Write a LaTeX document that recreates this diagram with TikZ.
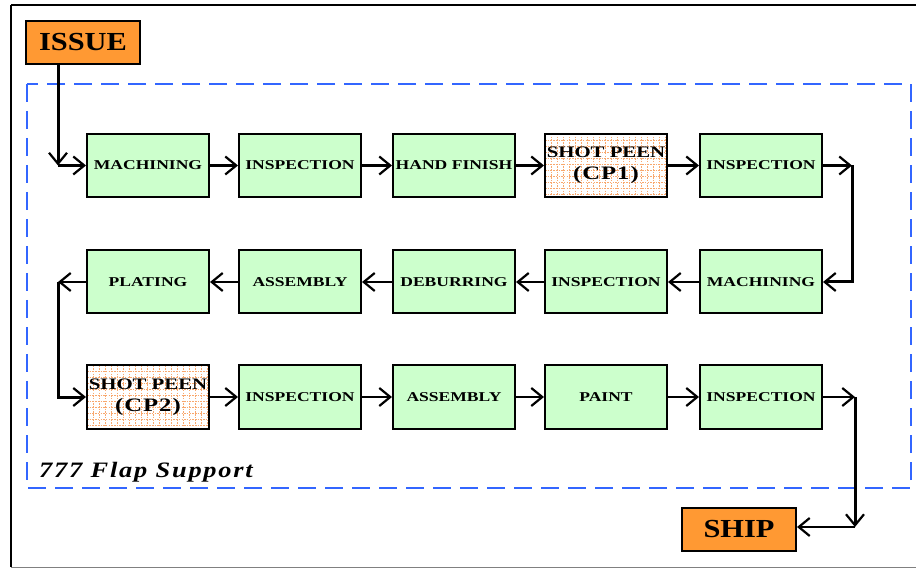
\documentclass[tikz,border=0pt]{standalone}
\usepackage{fontspec}
\setmainfont{Liberation Serif}
\newfontfamily\lblfont{Liberation Serif}[FakeStretch=1.3]
\newfontfamily\cpfont{Liberation Serif}[FakeStretch=1.3,LetterSpace=5]
\newfontfamily\tagfont{Liberation Serif}[FakeStretch=1.17]
\newfontfamily\flapfont{Liberation Serif}[FakeStretch=1.2,LetterSpace=8]
\usetikzlibrary{arrows.meta}
\definecolor{stepgreen}{HTML}{CCFFCC}
\definecolor{tagorange}{HTML}{FF9933}
\definecolor{frameblue}{HTML}{3366FF}
\definecolor{peenline}{HTML}{F8A86E}

\begin{document}
\begin{tikzpicture}[x=1pt,y=-1pt,
  op/.style={draw=black, line width=2pt, fill=stepgreen,
    minimum width=122pt, minimum height=63pt, inner sep=0pt, align=center,
    font=\lblfont\bfseries\fontsize{13.5}{15}\selectfont},
  peen/.style={op, fill=white,
    path picture={
      \foreach \k in {1,...,20}{
        \draw[peenline, line width=0.6pt, dash pattern=on 1.5pt off 1.2pt]
          ([xshift=\k*6pt]path picture bounding box.north west) --
          ([xshift=\k*6pt]path picture bounding box.south west);
        \draw[peenline, line width=0.6pt, dash pattern=on 1.5pt off 1.2pt]
          ([yshift=-\k*6pt]path picture bounding box.north west) --
          ([yshift=-\k*6pt]path picture bounding box.north east);
      }
    }},
  tag/.style={draw=black, line width=2pt, fill=tagorange,
    minimum width=114pt, minimum height=43pt, inner sep=0pt,
    font=\tagfont\bfseries\fontsize{26}{28}\selectfont},
  flow/.style={line width=2.2pt,
    -{Straight Barb[length=11pt,width=18pt,line width=2.2pt]}},
  riser/.style={flow, line width=3pt},
]
\useasboundingbox (0,0) rectangle (916,569);

% outer sheet border
\draw[line width=2pt] (11,5) -- (916,5);
\draw[line width=1.5pt] (11,5) -- (11,567);
\draw[gray, line width=1pt] (11,567) -- (916,567);

% dashed group outline and its caption
\draw[frameblue, line width=2.5pt, dash pattern=on 18pt off 9pt] (27,84) rectangle (911,488);
\node[anchor=base west, inner sep=0pt, font=\flapfont\bfseries\itshape\fontsize{22}{24}\selectfont]
  (caption) at (39,477) {777 Flap Support};

% start and end tags
\node[tag] (issue) at (83,42.5) {ISSUE};
\node[tag] (ship) at (739,529) {SHIP};

% row 1
\node[op] (m1) at (148,165.5) {MACHINING};
\node[op] (i1) at (300,165.5) {INSPECTION};
\node[op] (h1) at (454,165.5) {HAND FINISH};
\node[peen] (s1) at (606,165.5) {\fontsize{16}{18}\selectfont SHOT PEEN\\[7pt]\cpfont\fontsize{19}{22}\selectfont (CP1)};
\node[op] (i2) at (761,165.5) {INSPECTION};

% row 2
\node[op] (p1) at (148,282) {PLATING};
\node[op] (a1) at (300,282) {ASSEMBLY};
\node[op] (d1) at (454,282) {DEBURRING};
\node[op] (i3) at (606,282) {INSPECTION};
\node[op] (m2) at (761,282) {MACHINING};

% row 3
\node[peen] (s2) at (148,397) {\fontsize{16}{18}\selectfont SHOT PEEN\\[7pt]\cpfont\fontsize{19}{22}\selectfont (CP2)};
\node[op] (i4) at (300,397) {INSPECTION};
\node[op] (a2) at (454,397) {ASSEMBLY};
\node[op] (pt) at (606,397) {PAINT};
\node[op] (i5) at (761,397) {INSPECTION};

% corner points of the routed connectors
\coordinate (cin) at (58,165.5);
\coordinate (cr1) at (852,165.5);
\coordinate (cl1) at (58,282);
\coordinate (cr2) at (855,397);
\coordinate (cout) at (855,527);

% entry
\draw[riser] (issue.south -| cin) -- (cin);
\draw[flow] (cin) -- (m1.west);

% row 1
\draw[flow] (m1) -- (i1);
\draw[flow] (i1) -- (h1);
\draw[flow] (h1) -- (s1);
\draw[flow] (s1) -- (i2);
\draw[flow] (i2) -- (cr1);
\draw[riser] (cr1) |- (m2.east);

% row 2
\draw[flow] (m2) -- (i3);
\draw[flow] (i3) -- (d1);
\draw[flow] (d1) -- (a1);
\draw[flow] (a1) -- (p1);
\draw[flow] (p1) -- (cl1);
\draw[riser] (cl1) |- (s2.west);

% row 3
\draw[flow] (s2) -- (i4);
\draw[flow] (i4) -- (a2);
\draw[flow] (a2) -- (pt);
\draw[flow] (pt) -- (i5);
\draw[flow] (i5) -- (cr2);
\draw[riser] (cr2) -- (cout);
\draw[flow] (cout) -- (ship.east |- cout);
\end{tikzpicture}
\end{document}
